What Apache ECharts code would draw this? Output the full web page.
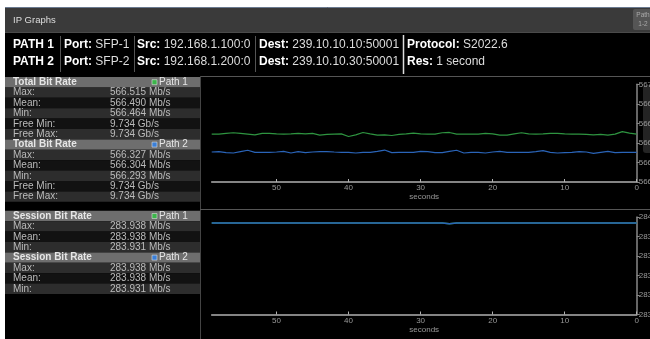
<!DOCTYPE html>
<html><head><meta charset="utf-8">
<script src="https://cdn.jsdelivr.net/npm/echarts@6/dist/echarts.min.js"></script>
<style>html,body{margin:0;padding:0;background:#000;}#c{width:650px;height:339px;}</style>
</head><body><div id="c"></div>
<script>
// ---- data ----
const secondsAgo = [59,58,57,56,55,54,53,52,51,50,49,48,47,46,45,44,43,42,41,40,39,38,37,36,35,34,33,32,31,30,29,28,27,26,25,24,23,22,21,20,19,18,17,16,15,14,13,12,11,10,9,8,7,6,5,4,3,2,1,0];
const path1Total = [566.490,566.490,566.497,566.504,566.497,566.490,566.483,566.497,566.497,566.493,566.490,566.493,566.497,566.493,566.497,566.480,566.487,566.490,566.493,566.466,566.483,566.507,566.493,566.480,566.483,566.476,566.487,566.493,566.500,566.493,566.490,566.490,566.504,566.507,566.490,566.490,566.490,566.490,566.497,566.493,566.480,566.480,566.493,566.504,566.493,566.490,566.493,566.497,566.497,566.493,566.490,566.490,566.487,566.483,566.487,566.480,566.490,566.515,566.500,566.490];
const path2Total = [566.307,566.311,566.301,566.297,566.311,566.325,566.304,566.304,566.304,566.307,566.314,566.297,566.311,566.301,566.307,566.311,566.311,566.307,566.304,566.304,566.297,566.304,566.304,566.314,566.327,566.301,566.304,566.304,566.304,566.314,566.311,566.301,566.301,566.314,566.325,566.297,566.304,566.304,566.297,566.307,566.314,566.304,566.304,566.304,566.304,566.311,566.321,566.304,566.297,566.301,566.304,566.311,566.307,566.293,566.304,566.314,566.301,566.304,566.304,566.304];
const path1Session = [283.938,283.938,283.938,283.938,283.938,283.938,283.938,283.938,283.938,283.938,283.938,283.938,283.938,283.938,283.938,283.938,283.938,283.938,283.938,283.938,283.938,283.938,283.938,283.938,283.938,283.938,283.938,283.938,283.938,283.938,283.938,283.938,283.938,283.931,283.938,283.938,283.938,283.938,283.938,283.938,283.938,283.938,283.938,283.938,283.938,283.938,283.938,283.938,283.938,283.938,283.938,283.938,283.938,283.938,283.938,283.938,283.938,283.938,283.938,283.938];
const path2Session = [283.938,283.938,283.938,283.938,283.938,283.938,283.938,283.938,283.938,283.938,283.938,283.938,283.938,283.938,283.938,283.938,283.938,283.938,283.938,283.938,283.938,283.938,283.938,283.938,283.938,283.938,283.938,283.938,283.938,283.938,283.938,283.938,283.938,283.931,283.938,283.938,283.938,283.938,283.938,283.938,283.938,283.938,283.938,283.938,283.938,283.938,283.938,283.938,283.938,283.938,283.938,283.938,283.938,283.938,283.938,283.938,283.938,283.938,283.938,283.938];
const totalAxis = {min:566, max:567, interval:0.2};
const sessionAxis = {min:283, max:284, interval:0.2};
const xAxisRange = {min:0, max:59, interval:10};

const headerLabels = ['Port:','Src:','Dest:'];
const path1Info = ['PATH 1','SFP-1','192.168.1.100:0','239.10.10.10:50001'];
const path2Info = ['PATH 2','SFP-2','192.168.1.200:0','239.10.10.30:50001'];
const extraLabels = ['Protocol:','Res:'];
const extraValues = ['S2022.6','1 second'];

const totalLabels = ['Max:','Mean:','Min:','Free Min:','Free Max:'];
const totalPath1 = ['566.515 Mb/s','566.490 Mb/s','566.464 Mb/s','9.734 Gb/s','9.734 Gb/s'];
const totalPath2 = ['566.327 Mb/s','566.304 Mb/s','566.293 Mb/s','9.734 Gb/s','9.734 Gb/s'];
const sessionLabels = ['Max:','Mean:','Min:'];
const sessionPath1 = ['283.938 Mb/s','283.938 Mb/s','283.931 Mb/s'];
const sessionPath2 = ['283.938 Mb/s','283.938 Mb/s','283.931 Mb/s'];

// ---- styling ----
const GREEN = '#2e9440', BLUE = '#2a64b8';
const FF = '"Liberation Sans", Arial, sans-serif';
const G = [];
function rect(x,y,w,h,fill,z,r){G.push({type:'rect',silent:true,z:z==null?-5:z,shape:{x,y,width:w,height:h,r:r||0},style:{fill}});}
function line(x1,y1,x2,y2,stroke,w,z){G.push({type:'line',silent:true,z:z==null?-4:z,shape:{x1,y1,x2,y2},style:{stroke,lineWidth:w||1}});}
function text(x,y,t,font,fill,align,rich){G.push({type:'text',silent:true,z:10,x,y,style:{text:t,font,fill,textAlign:align||'left',textVerticalAlign:'middle',verticalAlign:'middle',rich:rich}});}

// frame
rect(0,0,650,7,'#ffffff');
rect(0,0,5,339,'#ffffff');
rect(5,7,645,26,'#3a3a3a');
line(5,7.5,650,7.5,'#6a7a90',1);
line(5,32.5,650,32.5,'#4a4a4a',1);
text(13,20,'IP Graphs','9.5px '+FF,'#dddddd');
rect(633,9,20,21,'#555555',-3,2);
text(643,15,'Path','6.5px '+FF,'#aaaaaa','center');
text(643,24,'1-2','6.5px '+FF,'#aaaaaa','center');

// header info
const hb = 'bold 12px '+FF, hr = '12px '+FF;
const rich = {b:{font:hb,fill:'#ffffff'},v:{font:hr,fill:'#dddddd'}};
const colX = [64,137,259];
[[path1Info,45,0],[path2Info,62,1]].forEach(([info,y,k])=>{
  text(13,y,info[0],hb,'#ffffff');
  for(let i=0;i<3;i++) text(colX[i],y,'{b|'+headerLabels[i]+'} {v|'+info[i+1]+'}',hb,'#fff','left',rich);
  text(407,y,'{b|'+extraLabels[k]+'} {v|'+extraValues[k]+'}',hb,'#fff','left',rich);
});
[60.5,134.5,255.5].forEach(x=>line(x,36,x,72,'#555555',1,1));
line(403.5,35,403.5,74,'#dddddd',1.5,1);

// stats table
const RH = 10.4;
let ty = 77;
function block(title, pathName, color, labels, values){
  rect(5,ty,195,RH,'#6e6e6e');
  text(13,ty+RH/2,title,'bold 10px '+FF,'#e6e6e6');
  G.push({type:'rect',silent:true,z:9,shape:{x:152,y:ty+RH/2-2.5,width:5,height:5},style:{fill:color,stroke:'#dddddd',lineWidth:0.6}});
  text(159,ty+RH/2,pathName,'10px '+FF,'#e6e6e6');
  ty += RH;
  labels.forEach((l,i)=>{
    rect(5,ty,195,RH,i%2===0?'#2d2d2d':'#121212');
    text(13,ty+RH/2,l,'10px '+FF,'#bbbbbb');
    text(110,ty+RH/2,values[i],'10px '+FF,'#bbbbbb');
    ty += RH;
  });
}
block('Total Bit Rate','Path 1','#3bb54a',totalLabels,totalPath1);
block('Total Bit Rate','Path 2','#3a7fd8',totalLabels,totalPath2);
ty = 210.8;
block('Session Bit Rate','Path 1','#3bb54a',sessionLabels,sessionPath1);
block('Session Bit Rate','Path 2','#3a7fd8',sessionLabels,sessionPath2);

// chart panel borders
line(200,76.5,650,76.5,'#555555',1);
line(200.5,76,200.5,339,'#444444',1);
line(200,209.5,650,209.5,'#555555',1.2);
rect(643,85,12,68,'#242424',-1,3);

function pairs(vals){return secondsAgo.map((s,i)=>[s,vals[i]]);}
function xa(i){return {type:'value',gridIndex:i,min:xAxisRange.min,max:xAxisRange.max,interval:xAxisRange.interval,inverse:true,
  name:'seconds',nameLocation:'middle',nameGap:11,nameTextStyle:{color:'#999',fontSize:8,fontFamily:FF},
  axisLine:{show:true,lineStyle:{color:'#b0b0b0',width:1.5}},
  axisTick:{show:true,inside:true,length:3,lineStyle:{color:'#b0b0b0'}},
  axisLabel:{color:'#999',fontSize:8,fontFamily:FF,margin:2,showMaxLabel:false},
  splitLine:{show:false}};}
function ya(i,r){return {type:'value',gridIndex:i,position:'right',min:r.min,max:r.max,interval:r.interval,
  axisLine:{show:true,lineStyle:{color:'#888',width:1.5}},
  axisTick:{show:true,length:3,lineStyle:{color:'#888'}},
  axisLabel:{color:'#999',fontSize:8,fontFamily:FF,margin:2},
  splitLine:{show:false}};}
function ser(i,vals,color,w){return {type:'line',xAxisIndex:i,yAxisIndex:i,data:pairs(vals),showSymbol:false,symbol:'none',
  lineStyle:{color,width:w},itemStyle:{color},animation:false,clip:false};}

const chart = echarts.init(document.getElementById('c'),null,{renderer:'canvas'});
chart.setOption({
  backgroundColor:'#000',
  animation:false,
  grid:[{left:211.7,right:13.3,top:84.3,height:97.7,containLabel:false,outerBoundsMode:'none'},
        {left:211.7,right:13.3,top:217,height:97.5,containLabel:false,outerBoundsMode:'none'}],
  xAxis:[xa(0),xa(1)],
  yAxis:[ya(0,totalAxis),ya(1,sessionAxis)],
  series:[ser(0,path1Total,GREEN,1.2),ser(0,path2Total,BLUE,1.2),ser(1,path1Session,GREEN,1.5),ser(1,path2Session,BLUE,1.5)],
  graphic:G
});
</script></body></html>
